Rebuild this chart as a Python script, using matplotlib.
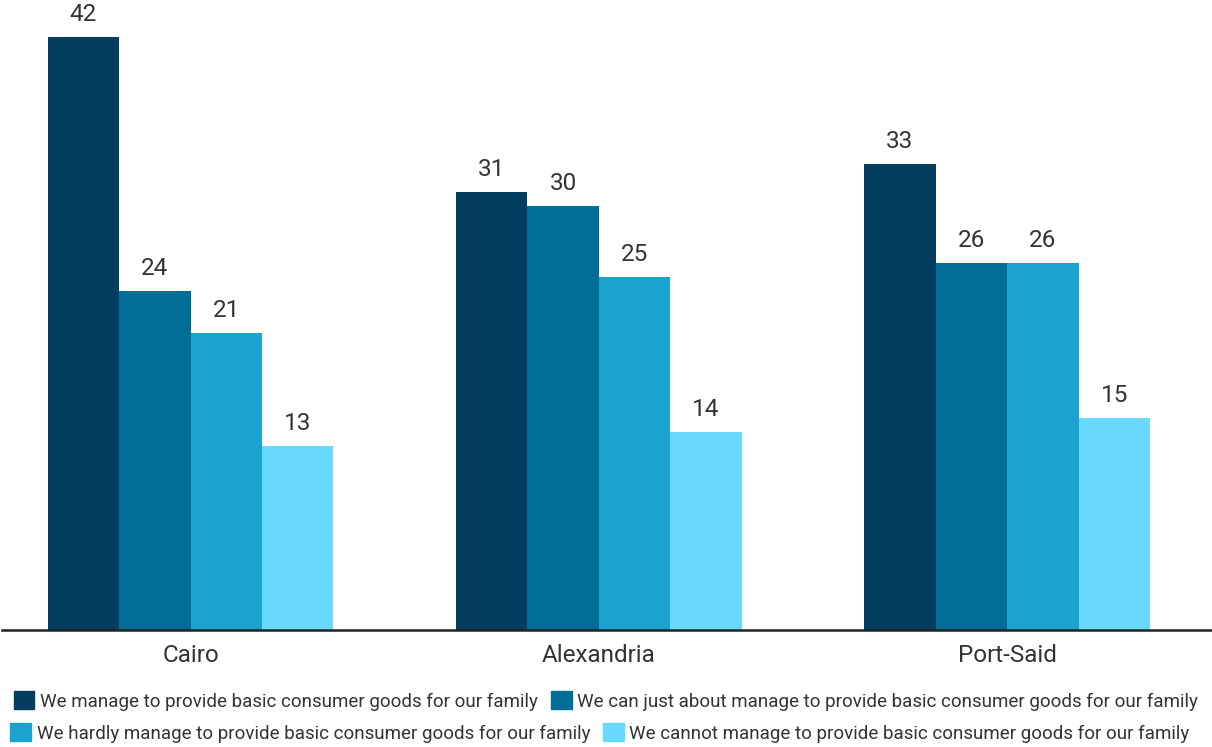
import numpy as np
import matplotlib.pyplot as plt
from matplotlib.patches import Patch

plt.rcParams['font.family'] = ['Roboto', 'DejaVu Sans']

cities = ["Cairo", "Alexandria", "Port-Said"]
series = [
    "We manage to provide basic consumer goods for our family",
    "We can just about manage to provide basic consumer goods for our family",
    "We hardly manage to provide basic consumer goods for our family",
    "We cannot manage to provide basic consumer goods for our family",
]
values = [
    [42, 31, 33],
    [24, 30, 26],
    [21, 25, 26],
    [13, 14, 15],
]
colors = ["#033d5f", "#016e97", "#1ba3d0", "#68d8fe"]

fig = plt.figure(figsize=(12.12, 7.47), dpi=100)
ax = fig.add_axes([2/1212, 117/747, 1210/1212, 630/747])

x = np.arange(len(cities))
w = 0.175
for i, (name, vals) in enumerate(zip(series, values)):
    pos = x + (i - 1.5) * w
    bars = ax.bar(pos, vals, w, color=colors[i], label=name)
    for b, v in zip(bars, vals):
        ax.annotate(str(v), (b.get_x() + b.get_width()/2, v), xytext=(0, 8),
                    textcoords="offset points", ha="center", va="bottom",
                    fontsize=17.5, color="#333333")

ax.set_xlim(-0.462, 2.502)
ax.set_ylim(0, 44.6)
ax.set_xticks(x)
ax.set_xticklabels(cities, fontsize=17.5, color="#333333")
ax.tick_params(axis="x", length=0, pad=10)
ax.set_yticks([])
for s in ["top", "right", "left"]:
    ax.spines[s].set_visible(False)
ax.spines["bottom"].set_linewidth(1.8)
ax.spines["bottom"].set_color("#222222")

handles = [Patch(color=c) for c in colors]
leg_kw = dict(frameon=False, ncol=2, fontsize=13.5, handlelength=1.1, handleheight=1.1,
              handletextpad=0.3, columnspacing=0.7, labelcolor="#333333")
fig.legend(handles[:2], series[:2], loc="center", bbox_to_anchor=(606/1212, 1 - 701/747), **leg_kw)
fig.legend(handles[2:], series[2:], loc="center", bbox_to_anchor=(600/1212, 1 - 733/747), **leg_kw)

fig.savefig("out.png", dpi=100)
